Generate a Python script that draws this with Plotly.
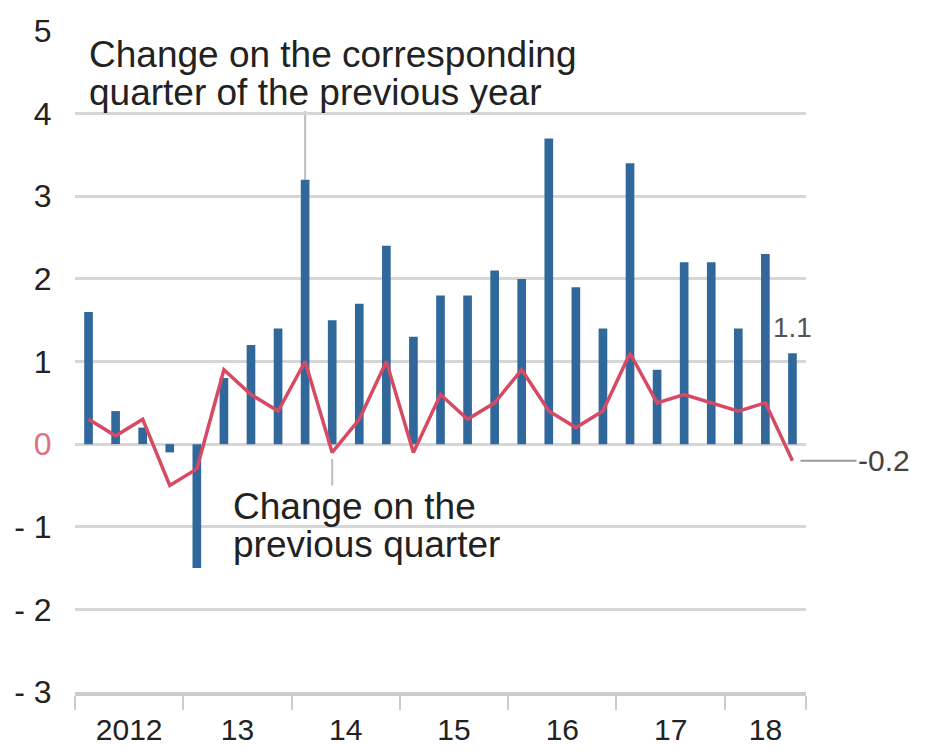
import plotly.graph_objects as go

quarters = ["2012Q1", "2012Q2", "2012Q3", "2012Q4",
            "2013Q1", "2013Q2", "2013Q3", "2013Q4",
            "2014Q1", "2014Q2", "2014Q3", "2014Q4",
            "2015Q1", "2015Q2", "2015Q3", "2015Q4",
            "2016Q1", "2016Q2", "2016Q3", "2016Q4",
            "2017Q1", "2017Q2", "2017Q3", "2017Q4",
            "2018Q1", "2018Q2", "2018Q3"]
yoy = [1.6, 0.4, 0.2, -0.1, -1.5, 0.8, 1.2, 1.4, 3.2, 1.5, 1.7, 2.4, 1.3, 1.8,
       1.8, 2.1, 2.0, 3.7, 1.9, 1.4, 3.4, 0.9, 2.2, 2.2, 1.4, 2.3, 1.1]
qoq = [0.3, 0.1, 0.3, -0.5, -0.3, 0.9, 0.6, 0.4, 1.0, -0.1, 0.3, 1.0, -0.1, 0.6,
       0.3, 0.5, 0.9, 0.4, 0.2, 0.4, 1.1, 0.5, 0.6, 0.5, 0.4, 0.5, -0.2]
year_labels = ["2012", "13", "14", "15", "16", "17", "18"]
quarters_per_year = [4, 4, 4, 4, 4, 4, 3]
y_ticks = [-3, -2, -1, 0, 1, 2, 3, 4, 5]
y_ticktext = ["- 3", "- 2", "- 1", "<span style='color:#e0707f'>0</span>", "1", "2", "3", "4", "5"]

x = list(range(len(quarters)))

# year centres and boundaries
centers, bounds = [], [-0.5]
start = 0
for n in quarters_per_year:
    centers.append(start + (n - 1) / 2)
    start += n
    bounds.append(start - 0.5)

FONT = "Liberation Sans, Arial, sans-serif"
BAR = "#30689c"
LINE = "#d64a63"
GRID = "#d6d6d6"

fig = go.Figure()
fig.add_trace(go.Bar(x=x, y=yoy, marker=dict(color=BAR, line=dict(width=0)),
                     width=0.32, showlegend=False, hoverinfo="skip"))
fig.add_trace(go.Scatter(x=x, y=qoq, mode="lines", line=dict(color=LINE, width=3.5),
                         showlegend=False, hoverinfo="skip"))

i14 = quarters.index("2014Q1")
i14b = quarters.index("2014Q2")
last = len(quarters) - 1

shapes = [
    dict(type="line", xref="x", yref="y", x0=i14, x1=i14, y0=yoy[i14], y1=4.03,
         line=dict(color="#bdbdbd", width=2), layer="below"),
    dict(type="line", xref="x", yref="y", x0=i14b, x1=i14b, y0=qoq[i14b] - 0.08, y1=-0.5,
         line=dict(color="#bdbdbd", width=2), layer="below"),
]

ann_font = dict(family=FONT, size=37, color="#222222")
annotations = [
    dict(x=-0.05, y=4.72, xref="x", yref="y", text="Change on the corresponding",
         showarrow=False, xanchor="left", yanchor="middle", font=ann_font),
    dict(x=-0.05, y=4.26, xref="x", yref="y", text="quarter of the previous year",
         showarrow=False, xanchor="left", yanchor="middle", font=ann_font),
    dict(x=5.25, y=-0.76, xref="x", yref="y", text="Change on the",
         showarrow=False, xanchor="left", yanchor="middle", font=ann_font),
    dict(x=5.25, y=-1.22, xref="x", yref="y", text="previous quarter",
         showarrow=False, xanchor="left", yanchor="middle", font=ann_font),
    dict(x=last, y=yoy[last], xref="x", yref="y", text=str(yoy[last]),
         showarrow=False, xanchor="center", yanchor="bottom", yshift=8,
         font=dict(family=FONT, size=28, color="#555555")),
    dict(x=last, y=qoq[last], xref="x", yref="y", text=str(qoq[last]),
         showarrow=True, arrowhead=0, arrowwidth=2, arrowcolor="#9a9a9a",
         ax=64, ay=0, xanchor="left", standoff=8,
         font=dict(family=FONT, size=30, color="#444444")),
]

# the page body adds an 8px offset, so the figure is sized to compensate
fig.update_layout(
    width=918, height=743,
    margin=dict(l=67, r=120, t=23, b=59),
    paper_bgcolor="white", plot_bgcolor="white",
    bargap=0.68,
    shapes=shapes, annotations=annotations,
    xaxis=dict(range=[-0.5, len(quarters) - 0.5], tickmode="array",
               tickvals=centers, ticktext=year_labels, automargin=False,
               ticks="outside", ticklen=8, tickcolor="rgba(0,0,0,0)",
               showgrid=False, zeroline=False,
               showline=True, linecolor="#cccccc", linewidth=4,
               tickfont=dict(family=FONT, size=30, color="#222222"),
               minor=dict(tickmode="array", tickvals=bounds, ticks="outside",
                          ticklen=14, tickcolor="#cccccc", tickwidth=2, showgrid=False)),
    yaxis=dict(range=[-3, 5], tickmode="array", tickvals=y_ticks, ticktext=y_ticktext,
               showgrid=True, gridcolor=GRID, gridwidth=2.5, zeroline=False,
               automargin=False,
               ticks="outside", ticklen=16, tickcolor="rgba(0,0,0,0)",
               tickfont=dict(family=FONT, size=32, color="#222222")),
)

fig.write_html("out.html")
